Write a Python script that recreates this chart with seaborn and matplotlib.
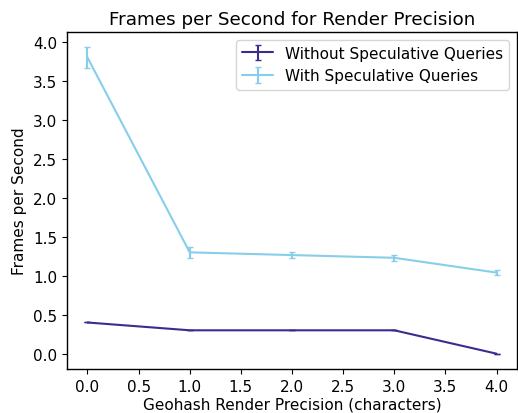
import numpy as np
import seaborn as sns
import matplotlib.pyplot as plt

precision = [0.0, 1.0, 2.0, 3.0, 4.0]
fps_without = [0.40, 0.30, 0.30, 0.30, 0.00]
err_without = [0.0, 0.0, 0.0, 0.0, 0.0]
fps_with = [3.80, 1.30, 1.265, 1.23, 1.04]
err_with = [0.13, 0.07, 0.04, 0.04, 0.035]

sns.set_style("ticks")
plt.rcParams['font.family'] = ['DejaVu Sans']
plt.rcParams['text.color'] = 'black'
plt.rcParams['axes.labelcolor'] = 'black'
plt.rcParams['xtick.color'] = 'black'
plt.rcParams['ytick.color'] = 'black'

fig = plt.figure(figsize=(5.18, 4.14), dpi=100)
ax = fig.add_axes([67 / 518, 44 / 414, 450 / 518, 337 / 414])

ax.errorbar(precision, fps_without, yerr=err_without, color='#3a2d8f',
            capsize=2, label='Without Speculative Queries')
ax.errorbar(precision, fps_with, yerr=err_with, color='#87CEEB',
            capsize=2, label='With Speculative Queries')

for s in ax.spines.values():
    s.set_color('black')
    s.set_linewidth(1.0)

ax.set_yticks(np.arange(0, 4.01, 0.5))
ax.set_xticks(np.arange(0, 4.01, 0.5))
ax.set_title('Frames per Second for Render Precision', fontsize=13.2)
ax.set_xlabel('Geohash Render Precision (characters)', fontsize=11, labelpad=2)
ax.set_ylabel('Frames per Second', fontsize=11)
ax.tick_params(labelsize=11, length=3.5)
ax.legend(loc='upper right', fontsize=11)

fig.savefig('out.png', dpi=100)
